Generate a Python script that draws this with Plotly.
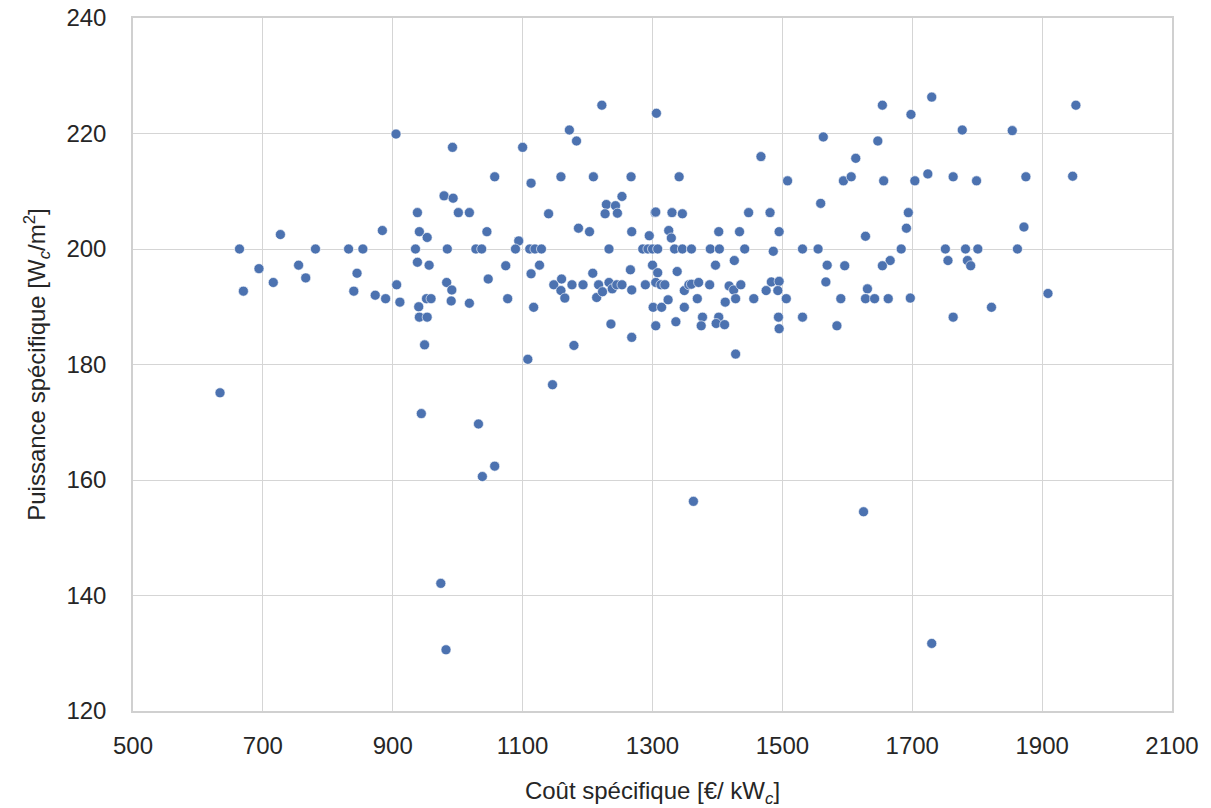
import plotly.graph_objects as go

cout_specifique = [
    905, 938, 884, 941, 953, 664, 727, 781, 832, 854, 935, 694, 755, 766, 716, 670, 845, 840, 873, 889,
    906, 911, 938, 956, 952, 940, 941, 953, 949, 634,
    1222, 1172, 1183, 992, 1100, 1057, 1113, 1159, 1209, 1267, 979, 993, 1001, 1018, 1253, 1229, 1243, 1227, 1246, 1140,
    1186, 1203, 1268, 1045, 1094, 984, 1028, 1037, 1089, 1111, 1119, 1129, 1233, 1074, 1126, 1113, 1208, 1266, 983, 991,
    1047, 1148, 1160, 1159, 1165, 1176, 1193, 1217, 1214, 1223, 1233, 1238, 1245, 1253, 1268, 959, 990, 1018, 1077, 1117,
    1236, 1268, 1179, 1108, 1146,
    1306, 1563, 1467, 1613, 1341, 1508, 1594, 1606, 1559, 1304, 1305, 1330, 1346, 1448, 1481, 1325, 1329, 1295, 1402, 1434,
    1495, 1628, 1285, 1293, 1300, 1308, 1334, 1346, 1360, 1389, 1403, 1442, 1486, 1531, 1555, 1300, 1308, 1338, 1397, 1426,
    1569, 1596, 1289, 1305, 1313, 1319, 1349, 1356, 1360, 1371, 1388, 1418, 1425, 1436, 1483, 1495, 1475, 1493, 1567, 1631,
    1301, 1314, 1324, 1349, 1369, 1412, 1428, 1456, 1506, 1590, 1628, 1305, 1336, 1377, 1375, 1402, 1398, 1411, 1494, 1495,
    1531, 1584, 1428,
    1730, 1654, 1952, 1698, 1777, 1854, 1647, 1724, 1763, 1875, 1947, 1656, 1704, 1799, 1694, 1691, 1872, 1683, 1751, 1782,
    1801, 1862, 1666, 1654, 1755, 1785, 1790, 1642, 1663, 1697, 1909, 1822, 1763,
    944, 1032, 1057, 1038, 1363, 974, 982, 1625, 1730,
]

puissance_specifique = [
    219.9, 206.3, 203.2, 203.0, 202.0, 200, 202.5, 200, 200, 200, 200, 196.6, 197.2, 195.0, 194.2, 192.7, 195.8, 192.7, 192.0, 191.4,
    193.8, 190.8, 197.7, 197.2, 191.4, 190.0, 188.2, 188.2, 183.4, 175.1,
    224.9, 220.6, 218.7, 217.6, 217.6, 212.5, 211.4, 212.5, 212.5, 212.5, 209.2, 208.8, 206.3, 206.3, 209.1, 207.7, 207.5, 206.1, 206.2, 206.1,
    203.6, 203.0, 203.0, 203.0, 201.4, 200, 200, 200, 200, 200, 200, 200, 200, 197.1, 197.2, 195.7, 195.8, 196.4, 194.2, 192.9,
    194.8, 193.8, 194.8, 192.8, 191.5, 193.8, 193.8, 193.8, 191.6, 192.6, 194.2, 193.1, 193.8, 193.8, 192.9, 191.4, 191.0, 190.6, 191.4, 189.9,
    187.0, 184.7, 183.3, 180.9, 176.5,
    223.5, 219.4, 216.0, 215.7, 212.5, 211.8, 211.8, 212.5, 207.9, 206.3, 206.4, 206.3, 206.1, 206.3, 206.3, 203.2, 201.9, 202.3, 203.0, 203.0,
    203.0, 202.2, 200, 200, 200, 200, 200, 200, 200, 200, 200, 200, 199.6, 200, 200, 197.2, 195.9, 196.1, 197.2, 198.0,
    197.2, 197.1, 193.8, 194.2, 193.8, 193.8, 192.8, 193.8, 193.9, 194.2, 193.8, 193.6, 192.9, 193.8, 194.3, 194.4, 192.8, 192.8, 194.3, 193.1,
    189.9, 189.9, 191.2, 189.9, 191.4, 190.8, 191.4, 191.4, 191.4, 191.4, 191.4, 186.7, 187.4, 188.2, 186.7, 188.2, 187.1, 186.9, 188.2, 186.2,
    188.2, 186.7, 181.8,
    226.3, 224.9, 224.9, 223.3, 220.6, 220.5, 218.7, 213.0, 212.5, 212.5, 212.6, 211.8, 211.8, 211.8, 206.3, 203.6, 203.8, 200, 200, 200,
    200, 200, 198.0, 197.1, 198.0, 198.0, 197.1, 191.4, 191.4, 191.5, 192.3, 189.9, 188.2,
    171.5, 169.7, 162.4, 160.6, 156.3, 142.1, 130.6, 154.5, 131.7,
]

x_ticks = [500, 700, 900, 1100, 1300, 1500, 1700, 1900, 2100]
y_ticks = [120, 140, 160, 180, 200, 220, 240]

fig = go.Figure()
fig.add_trace(go.Scatter(
    x=cout_specifique, y=puissance_specifique, mode="markers",
    marker=dict(color="#4C72B0", size=10, line=dict(color="white", width=0.6)),
    showlegend=False,
))

axis_common = dict(
    showgrid=True, gridcolor="#d5d5d5", gridwidth=1.2,
    showline=True, linecolor="#d0d0d0", linewidth=1.5, mirror=True,
    zeroline=False, ticks="", tickfont=dict(size=24, color="#262626"),
    title_font=dict(size=24, color="#262626"), automargin=False,
)

fig.update_xaxes(
    range=[500, 2100], tickvals=x_ticks, ticktext=[str(v) for v in x_ticks],
    title_text="Coût spécifique [€/ kW<sub><i>c</i></sub>]", title_standoff=25,
    ticklabelstandoff=12, **axis_common,
)
fig.update_yaxes(
    range=[120, 240], tickvals=y_ticks, ticktext=[str(v) for v in y_ticks],
    title_text="Puissance spécifique [W<sub><i>c</i></sub>/m<sup>2</sup>]", title_standoff=14,
    ticklabelstandoff=20, **axis_common,
)

fig.update_layout(
    width=1211, height=808,
    margin=dict(l=133, r=39, t=18, b=97),
    paper_bgcolor="white", plot_bgcolor="white",
    font=dict(family="Liberation Sans, Arial, sans-serif", color="#262626"),
)

fig.write_html("out.html")
